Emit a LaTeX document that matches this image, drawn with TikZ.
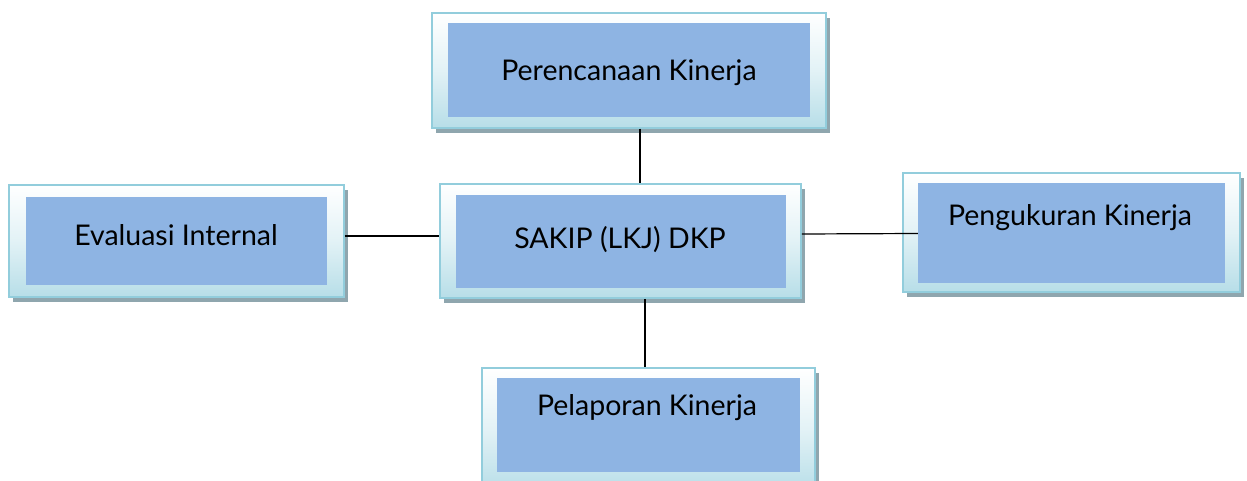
\documentclass[tikz,border=0pt]{standalone}
\usepackage{fontspec}
\setmainfont{Lato}
\usetikzlibrary{shadows}
\definecolor{innerblue}{HTML}{8EB4E3}
\definecolor{framec}{HTML}{92CDDC}
\definecolor{framebot}{HTML}{B7DEE8}
\definecolor{shadowc}{HTML}{8FA6AE}
\tikzset{
  frame/.style={draw=framec, line width=1.5pt, top color=white, bottom color=framebot,
    middle color=white!60!framebot, inner sep=0pt,
    drop shadow={shadow xshift=4pt, shadow yshift=-5pt, fill=shadowc, opacity=1}},
  inner/.style={fill=innerblue, draw=none, inner sep=0pt},
  lbl/.style={font=\fontsize{28.5}{33}\selectfont, text=black, inner sep=0pt},
  conn/.style={draw=black, line width=1.2pt}
}
\begin{document}
\begin{tikzpicture}[x=1pt,y=-1pt]
\useasboundingbox (0,0) rectangle (1247,481);
% top
\node[frame, minimum width=394pt, minimum height=115pt] (topF) at (629,70.5) {};
\node[inner, minimum width=362pt, minimum height=94pt] (topI) at (629,70) {};
\node[lbl] (topT) at (629,73) {Perencanaan Kinerja};
% left
\node[frame, minimum width=335pt, minimum height=112pt] (leftF) at (176.5,241) {};
\node[inner, minimum width=301pt, minimum height=88pt] (leftI) at (176.5,241) {};
\node[lbl] (leftT) at (176,235) {Evaluasi Internal};
% center
\node[frame, minimum width=361pt, minimum height=114pt] (cF) at (620.5,241) {};
\node[inner, minimum width=330pt, minimum height=93pt] (cI) at (621,241.5) {};
\node[lbl] (cT) at (620,240) {SAKIP (LKJ) DKP};
% right
\node[frame, minimum width=337pt, minimum height=119pt] (rF) at (1071.5,232.5) {};
\node[inner, minimum width=307pt, minimum height=100pt] (rI) at (1071.5,233) {};
\node[lbl] (rT) at (1070,218) {Pengukuran Kinerja};
% bottom
\node[frame, minimum width=333pt, minimum height=124pt] (bF) at (648.5,430) {};
\node[inner, minimum width=303pt, minimum height=94pt] (bI) at (648.5,425) {};
\node[lbl] (bT) at (647,408) {Pelaporan Kinerja};
% connectors
\draw[conn] ([xshift=11pt]topF.south) -- ([xshift=19.5pt]cF.north);
\draw[conn] ([yshift=5pt]leftF.east) -- ([yshift=5pt]cF.west);
\draw[conn] ([yshift=7pt]cF.east) -- ([yshift=-0.5pt]rI.west);
\draw[conn] ([xshift=24.5pt]cF.south) -- ([xshift=-3.5pt]bF.north);
\end{tikzpicture}
\end{document}
